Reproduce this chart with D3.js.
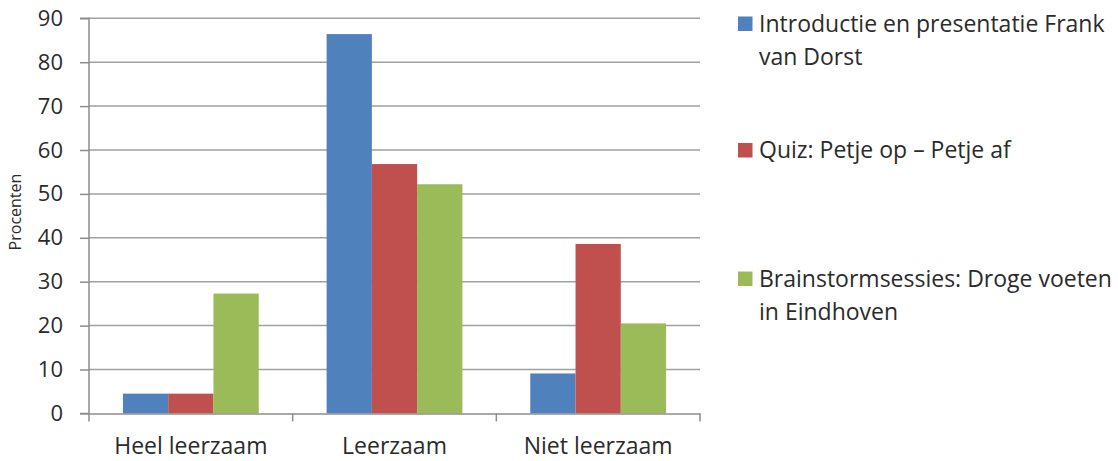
<!DOCTYPE html>
<html>
<head>
<meta charset="utf-8">
<script src="https://cdn.jsdelivr.net/npm/d3@7"></script>
<style>
  html, body { margin: 0; padding: 0; background: #fff; }
  svg { display: block; font-family: "Open Sans", Lato, sans-serif; }
</style>
</head>
<body>
<svg id="chart" width="1118" height="461"></svg>
<script>
const categories = ["Heel leerzaam", "Leerzaam", "Niet leerzaam"];
const seriesNames = [
  ["Introductie en presentatie Frank", "van Dorst"],
  ["Quiz: Petje op \u2013 Petje af"],
  ["Brainstormsessies: Droge voeten", "in Eindhoven"]
];
const seriesColors = ["#4F81BD", "#C0504D", "#9BBB59"];
const introductieValues = [4.5, 86.4, 9.1];
const quizValues = [4.5, 56.8, 38.6];
const brainstormValues = [27.3, 52.2, 20.5];
const seriesValues = [introductieValues, quizValues, brainstormValues];
const yTicks = [0, 10, 20, 30, 40, 50, 60, 70, 80, 90];
const yTitle = "Procenten";

(function () {
const FONT = "'Open Sans', Lato, sans-serif";
const TXT = "#2b2b2b";
const svg = d3.select("#chart");
const pLeft = 89, pRight = 700, pTop = 18.3, pBottom = 413.4;

const x = d3.scaleBand().domain(categories).range([pLeft, pRight]).paddingInner(0).paddingOuter(0);
const xs = d3.scaleBand().domain(d3.range(seriesValues.length)).range([0, x.bandwidth()]).paddingInner(0).paddingOuter(0.75);
const y = d3.scaleLinear().domain([0, 90]).range([pBottom, pTop]);

// gridlines
svg.append("g").selectAll("line").data(yTicks.filter(d => d > 0)).join("line")
  .attr("x1", pLeft).attr("x2", pRight)
  .attr("y1", d => y(d)).attr("y2", d => y(d))
  .attr("stroke", "#a0a0a0").attr("stroke-width", 1.5);

// bars
const rows = [];
seriesValues.forEach((vals, si) => vals.forEach((v, ci) => rows.push({si, ci, v})));
svg.append("g").selectAll("rect").data(rows).join("rect")
  .attr("x", d => x(categories[d.ci]) + xs(d.si))
  .attr("width", xs.bandwidth())
  .attr("y", d => y(d.v))
  .attr("height", d => y(0) - y(d.v))
  .attr("fill", d => seriesColors[d.si]);

// y axis
const yAxis = d3.axisLeft(y).tickValues(yTicks).tickSize(9).tickPadding(17);
const gy = svg.append("g").attr("transform", `translate(${pLeft},0)`).call(yAxis);
gy.select(".domain").attr("stroke", "#8c8c8c").attr("stroke-width", 1.5).attr("d", `M-9,${pTop}H0V${pBottom}H-9`);
gy.selectAll(".tick line").attr("stroke", "#8c8c8c").attr("stroke-width", 1.5);
gy.selectAll(".tick text").attr("font-size", 22).attr("fill", TXT).attr("font-family", FONT);

// x axis
const xAxis = d3.axisBottom(x).tickSize(0).tickPadding(24);
const gx = svg.append("g").attr("transform", `translate(0,${pBottom})`).call(xAxis);
gx.select(".domain").attr("stroke", "#8c8c8c").attr("stroke-width", 1.5);
gx.selectAll(".tick text").attr("font-size", 23).attr("fill", TXT).attr("font-family", FONT);
// category boundary ticks
const bounds = categories.map(c => x(c)).concat([x(categories[categories.length - 1]) + x.bandwidth()]);
gx.append("g").selectAll("line").data(bounds).join("line")
  .attr("x1", d => d).attr("x2", d => d).attr("y1", 0).attr("y2", 8)
  .attr("stroke", "#8c8c8c").attr("stroke-width", 1.5);

// y title
svg.append("text")
  .attr("transform", `translate(21,212) rotate(-90)`)
  .attr("text-anchor", "middle")
  .attr("font-size", 16).attr("fill", TXT).attr("font-family", FONT)
  .text(yTitle);

// legend
const legendY = [31.5, 158, 286.5];
const lg = svg.append("g").selectAll("g").data(seriesNames).join("g")
  .attr("transform", (d, i) => `translate(738,${legendY[i]})`);
lg.append("rect").attr("x", 0).attr("y", -15).attr("width", 14.5).attr("height", 14.5)
  .attr("fill", (d, i) => seriesColors[i]);
lg.append("text").attr("x", 21).attr("y", 0)
  .attr("font-size", 23).attr("fill", TXT).attr("font-family", FONT)
  .selectAll("tspan").data(d => d).join("tspan")
  .attr("x", 21).attr("dy", (d, j) => j === 0 ? 0 : 33)
  .text(d => d);
})();
</script>
</body>
</html>
